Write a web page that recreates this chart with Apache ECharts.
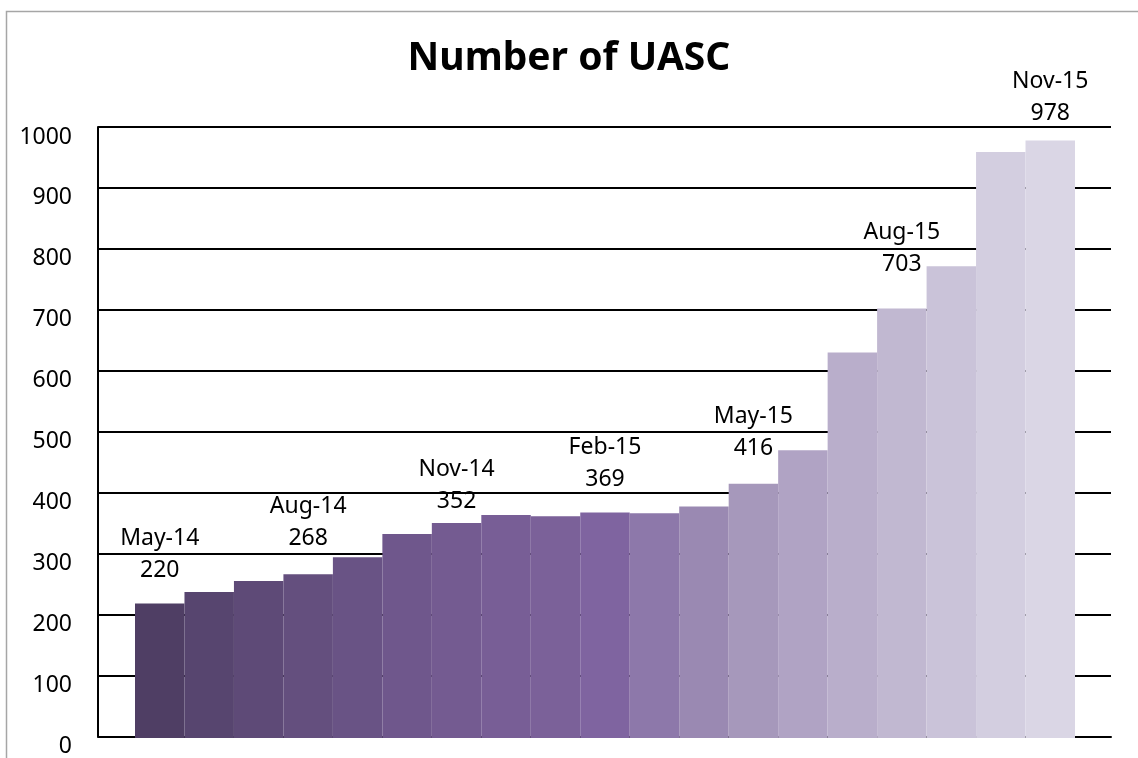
<!DOCTYPE html>
<html>
<head>
<meta charset="utf-8">
<script src="https://cdn.jsdelivr.net/npm/echarts@6/dist/echarts.min.js"></script>
<style>
  html, body { margin: 0; padding: 0; background: #fff; }
  #chart1 { width: 1138px; height: 758px; }
</style>
</head>
<body>
<div id="chart1"></div>
<script>
var dom = document.getElementById("chart1");
var myChart = echarts.init(dom);

// data
var months = ["May-14", "Jun-14", "Jul-14", "Aug-14", "Sep-14", "Oct-14", "Nov-14",
  "Dec-14", "Jan-15", "Feb-15", "Mar-15", "Apr-15", "May-15", "Jun-15",
  "Jul-15", "Aug-15", "Sep-15", "Oct-15", "Nov-15"];
var uasc = [220, 239, 257, 268, 296, 334, 352, 365, 363, 369, 368, 379, 416, 471,
  631, 703, 772, 959, 978];
var labelled = ["May-14", "Aug-14", "Nov-14", "Feb-15", "May-15", "Aug-15", "Nov-15"];
var yTicks = [0, 100, 200, 300, 400, 500, 600, 700, 800, 900, 1000];

// styling
var barColors = ["#4f3e64", "#57456f", "#5e4a77", "#644f7e", "#695385", "#6f578c",
  "#745b91", "#785e96", "#7b6199", "#7f64a0", "#8d78aa", "#9a89b2", "#a698bb",
  "#b0a3c4", "#b9aecb", "#c1b8d1", "#cac3d9", "#d3cee0", "#dad6e5"];
var labelGap = {"May-14": 17, "Aug-14": 20, "Nov-14": 5, "Feb-15": 17,
  "May-15": 19, "Aug-15": 28, "Nov-15": 11};
var font = "Noto Sans";

var barData = uasc.map(function (v, i) {
  var item = { value: v, itemStyle: { color: barColors[i] } };
  if (labelled.indexOf(months[i]) >= 0) {
    item.label = { show: true, distance: labelGap[months[i]] };
  }
  return item;
});

option = {
  animation: false,
  title: {
    left: 'center',
    top: 34,
    text: 'Number of UASC',
    textStyle: { fontFamily: font, fontSize: 39, fontWeight: 'bold', color: '#000' }
  },
  graphic: [{
    type: 'rect',
    shape: { x: 6.5, y: 11.5, width: 1300, height: 900 },
    style: { fill: null, stroke: '#a6a6a6', lineWidth: 1.5 },
    silent: true
  }],
  grid: [
    { left: 98, right: 27, top: 127, bottom: 20 },
    { left: 135, right: 63, top: 127, bottom: 20 }
  ],
  xAxis: [
    {
      gridIndex: 0, type: 'category', data: months,
      axisLine: { show: true, lineStyle: { color: '#000', width: 2 } },
      axisTick: { show: false }, axisLabel: { show: false }
    },
    {
      gridIndex: 1, type: 'category', data: months,
      axisLine: { show: false }, axisTick: { show: false }, axisLabel: { show: false }
    }
  ],
  yAxis: [
    {
      gridIndex: 0, type: 'value', min: yTicks[0], max: yTicks[yTicks.length - 1], interval: 100,
      axisLine: { show: true, lineStyle: { color: '#000', width: 2 } },
      axisTick: { show: false },
      axisLabel: {
        margin: 26, color: '#000', fontFamily: font, fontSize: 23,
        verticalAlign: 'top',
        lineHeight: 20,
        formatter: function (v) { return String(v); }
      },
      splitLine: { show: true, lineStyle: { color: '#000', width: 2 } }
    },
    {
      gridIndex: 1, type: 'value', min: yTicks[0], max: yTicks[yTicks.length - 1], interval: 100,
      axisLine: { show: false }, axisTick: { show: false },
      axisLabel: { show: false }, splitLine: { show: false }
    }
  ],
  series: [{
    type: 'bar',
    xAxisIndex: 1,
    yAxisIndex: 1,
    barCategoryGap: '0%',
    data: barData,
    label: {
      show: false,
      position: 'top',
      color: '#000',
      fontFamily: font,
      fontSize: 23,
      lineHeight: 32,
      align: 'center',
      formatter: function (p) { return p.name + '\n' + p.value; }
    }
  }]
};

if (option && typeof option === "object") {
  myChart.setOption(option, true);
}
</script>
</body>
</html>
